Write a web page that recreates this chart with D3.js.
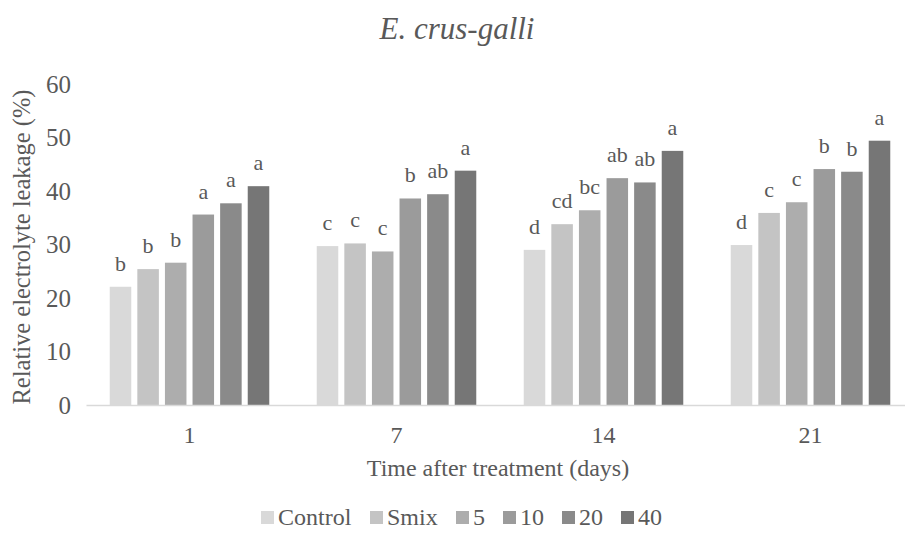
<!DOCTYPE html>
<html>
<head>
<meta charset="utf-8">
<script src="https://cdn.jsdelivr.net/npm/d3@7"></script>
<style>
  body { margin: 0; background: #fff; }
  svg text { font-family: "Liberation Serif", Tinos, Times, "DejaVu Serif", serif !important; fill: #595959; }
</style>
</head>
<body>
<div id="chart"></div>
<script>
var days = ["1", "7", "14", "21"];
var series = ["Control", "Smix", "5", "10", "20", "40"];
var colors = ["#d9d9d9", "#c4c4c4", "#adadad", "#9b9b9b", "#8a8a8a", "#767676"];

// values per series, one per day
var control = [22.1, 29.7, 29.0, 29.9];
var smix    = [25.4, 30.2, 33.8, 35.9];
var c5      = [26.6, 28.7, 36.4, 37.9];
var c10     = [35.6, 38.6, 42.4, 44.1];
var c20     = [37.7, 39.4, 41.6, 43.6];
var c40     = [40.9, 43.8, 47.5, 49.4];

// significance letters, one per day
var lControl = ["b", "c", "d", "d"];
var lSmix    = ["b", "c", "cd", "c"];
var l5       = ["b", "c", "bc", "c"];
var l10      = ["a", "b", "ab", "b"];
var l20      = ["a", "ab", "ab", "b"];
var l40      = ["a", "a", "a", "a"];

var yTicks = [0, 10, 20, 30, 40, 50, 60];

var values = [control, smix, c5, c10, c20, c40];
var letters = [lControl, lSmix, l5, l10, l20, l40];

var data = [];
days.forEach(function (d, i) {
    series.forEach(function (s, j) {
        data.push({day: d, series: s, value: values[j][i], letter: letters[j][i], color: colors[j]});
    });
});

var width = 905;
var height = 548;
var margin = {left: 86, right: -9, top: 84, bottom: 143};

var svg = d3.select('#chart')
    .append('svg')
        .attr('width', width)
        .attr('height', height);

var x0 = d3.scaleBand()
    .domain(days)
    .range([margin.left, width - margin.right])
    .paddingInner(0.2)
    .paddingOuter(0.1);

var x1 = d3.scaleBand()
    .domain(series)
    .range([0, x0.bandwidth()])
    .paddingInner(0.22)
    .paddingOuter(0.11);

var yScale = d3.scaleLinear()
    .domain([0, 60])
    .range([height - margin.bottom, margin.top]);

// y tick labels (no axis line)
var yAxis = d3.axisLeft(yScale).tickValues(yTicks).tickSize(0).tickPadding(0);
var gy = svg.append('g')
    .attr('class', 'y axis')
    .attr('transform', 'translate(71,0)')
    .call(yAxis);
gy.select('.domain').remove();
gy.selectAll('text')
    .style('font-size', '25px')
    .attr('fill', '#595959');

// bars
svg.selectAll('rect.bar')
    .data(data)
    .enter()
    .append('rect')
    .attr('class', 'bar')
    .attr('x', function (d) { return x0(d.day) + x1(d.series); })
    .attr('width', x1.bandwidth())
    .attr('y', function (d) { return yScale(d.value); })
    .attr('height', function (d) { return yScale(0) - yScale(d.value); })
    .attr('fill', function (d) { return d.color; });

// letters above bars
svg.selectAll('text.letter')
    .data(data)
    .enter()
    .append('text')
    .attr('class', 'letter')
    .attr('x', function (d) { return x0(d.day) + x1(d.series) + x1.bandwidth() / 2; })
    .attr('y', function (d) { return yScale(d.value) - 16; })
    .attr('text-anchor', 'middle')
    .style('font-size', '22px')
    .text(function (d) { return d.letter; });

// x axis
var xAxis = d3.axisBottom(x0).tickSize(0).tickPadding(0);
var gx = svg.append('g')
    .attr('class', 'x axis')
    .attr('transform', 'translate(0,' + yScale(0) + ')')
    .call(xAxis);
gx.select('.domain')
    .attr('stroke', '#d9d9d9')
    .attr('stroke-width', 1.3);
gx.selectAll('text')
    .attr('y', 38)
    .attr('dy', 0)
    .style('font-size', '24px')
    .attr('fill', '#595959');

// x axis label
svg.append('text')
    .attr('x', 498)
    .attr('y', 476)
    .attr('text-anchor', 'middle')
    .style('font-size', '24px')
    .text('Time after treatment (days)');

// y axis label
svg.append('text')
    .attr('transform', 'translate(21,' + 247 + ') rotate(-90)')
    .attr('dy', '0.35em')
    .attr('text-anchor', 'middle')
    .style('font-size', '24.5px')
    .text('Relative electrolyte leakage (%)');

// title
svg.append('text')
    .attr('x', 457)
    .attr('y', 39)
    .attr('text-anchor', 'middle')
    .style('font-size', '31px')
    .style('font-style', 'italic')
    .text('E. crus-galli');

// legend
var legendX = [261, 370, 456, 503, 562, 621];
var legend = svg.append('g').attr('class', 'legend');
series.forEach(function (s, j) {
    legend.append('rect')
        .attr('x', legendX[j])
        .attr('y', 511)
        .attr('width', 13)
        .attr('height', 13)
        .attr('fill', colors[j]);
    legend.append('text')
        .attr('x', legendX[j] + 17)
        .attr('y', 525)
        .style('font-size', '24px')
        .text(s);
});
</script>
</body>
</html>
